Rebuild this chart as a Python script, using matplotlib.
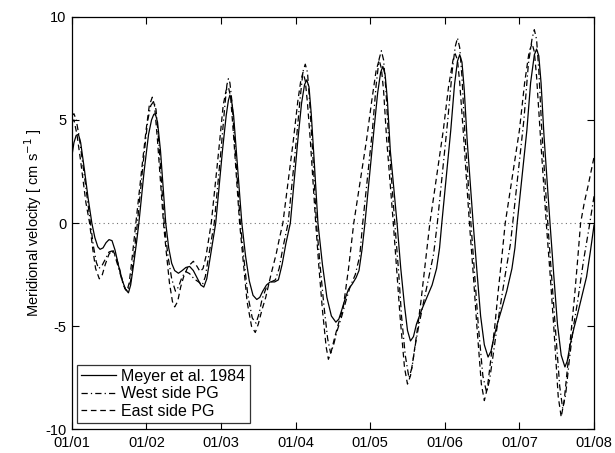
import matplotlib
matplotlib.use("Agg")
import matplotlib.pyplot as plt
from matplotlib.ticker import FuncFormatter

plt.rcParams['font.family'] = ['Liberation Sans', 'DejaVu Sans']

# ---- data: (time in days since 01/01, meridional velocity in cm/s) ----
meyer = [(0.00, 3.2), (0.03, 3.9), (0.06, 4.25), (0.09, 4.3), (0.12, 3.9), (0.17, 2.6), (0.22, 1.2),
         (0.27, 0.0), (0.31, -0.7), (0.35, -1.15), (0.38, -1.27), (0.42, -1.2), (0.46, -0.95),
         (0.50, -0.8), (0.54, -0.85), (0.58, -1.3), (0.63, -2.1), (0.68, -2.8), (0.72, -3.2),
         (0.76, -3.38), (0.79, -3.0), (0.83, -2.0), (0.87, -0.9), (0.90, 0.0), (0.97, 2.5),
         (1.03, 4.3), (1.07, 5.0), (1.10, 5.27), (1.12, 5.3), (1.15, 4.9), (1.19, 3.5), (1.26, 0.0),
         (1.30, -1.2), (1.34, -1.95), (1.38, -2.3), (1.43, -2.43), (1.48, -2.3), (1.53, -2.15),
         (1.58, -2.1), (1.63, -2.3), (1.68, -2.65), (1.73, -3.0), (1.77, -3.1), (1.81, -2.7),
         (1.85, -1.8), (1.93, 0.0), (2.02, 3.5), (2.07, 5.2), (2.10, 5.95), (2.12, 6.2), (2.14, 6.0),
         (2.17, 5.2), (2.20, 3.8), (2.28, 0.0), (2.33, -1.6), (2.38, -2.8), (2.43, -3.5), (2.48, -3.7),
         (2.52, -3.6), (2.56, -3.3), (2.61, -3.0), (2.66, -2.85), (2.72, -2.85), (2.77, -2.75),
         (2.82, -2.0), (2.87, -1.0), (2.93, 0.0), (3.03, 4.0), (3.08, 5.8), (3.12, 6.7), (3.15, 6.94),
         (3.18, 6.6), (3.21, 5.3), (3.25, 3.0), (3.30, 0.0), (3.36, -2.0), (3.42, -3.6), (3.48, -4.5),
         (3.54, -4.8), (3.58, -4.65), (3.62, -4.2), (3.67, -3.6), (3.71, -3.2), (3.76, -2.95),
         (3.81, -2.65), (3.85, -2.3), (3.89, -1.3), (3.93, 0.0), (4.05, 4.5), (4.10, 6.3), (4.14, 7.3),
         (4.17, 7.59), (4.20, 7.2), (4.23, 6.0), (4.27, 3.5), (4.36, 0.0), (4.41, -2.2), (4.46, -4.0),
         (4.50, -5.2), (4.54, -5.71), (4.58, -5.5), (4.62, -4.9), (4.69, -4.2), (4.76, -3.6),
         (4.83, -3.0), (4.89, -2.2), (4.93, -1.2), (4.96, 0.0), (5.08, 4.5), (5.13, 6.7), (5.17, 7.85),
         (5.20, 8.16), (5.23, 7.8), (5.26, 6.5), (5.30, 4.0), (5.38, 0.0), (5.43, -2.3), (5.48, -4.5),
         (5.53, -5.9), (5.58, -6.49), (5.62, -6.2), (5.66, -5.5), (5.71, -4.8), (5.76, -4.2),
         (5.83, -3.3), (5.90, -2.2), (5.94, -1.2), (5.97, 0.0), (6.10, 4.5), (6.15, 6.8), (6.20, 8.15),
         (6.23, 8.43), (6.26, 8.1), (6.29, 6.8), (6.33, 4.2), (6.41, 0.0), (6.46, -2.5), (6.51, -4.9),
         (6.56, -6.4), (6.61, -6.97), (6.64, -6.7), (6.68, -5.9), (6.73, -5.1), (6.77, -4.55),
         (6.84, -3.5), (6.90, -2.6), (6.95, -1.4), (7.00, -0.1)]

west = [(0.00, 5.2), (0.03, 5.3), (0.06, 5.0), (0.10, 4.2), (0.18, 2.0), (0.25, 0.0), (0.29, -1.1),
        (0.33, -1.9), (0.36, -2.2), (0.40, -2.1), (0.45, -1.75), (0.50, -1.4), (0.54, -1.35),
        (0.58, -1.6), (0.63, -2.2), (0.68, -2.85), (0.72, -3.2), (0.75, -3.3), (0.79, -2.8),
        (0.83, -1.7), (0.88, 0.0), (0.96, 3.0), (1.02, 5.0), (1.06, 5.7), (1.10, 5.9), (1.13, 5.5),
        (1.17, 3.8), (1.24, 0.0), (1.29, -1.6), (1.34, -2.7), (1.39, -3.3), (1.43, -3.1), (1.48, -2.6),
        (1.53, -2.35), (1.58, -2.45), (1.64, -2.7), (1.70, -2.85), (1.75, -3.0), (1.79, -2.6),
        (1.84, -1.5), (1.91, 0.0), (2.00, 3.5), (2.05, 5.6), (2.08, 6.7), (2.10, 7.0), (2.12, 6.8),
        (2.15, 5.8), (2.19, 3.6), (2.26, 0.0), (2.31, -1.8), (2.36, -3.5), (2.42, -4.6), (2.47, -4.85),
        (2.51, -4.4), (2.55, -3.7), (2.61, -3.1), (2.67, -2.85), (2.73, -2.75), (2.78, -2.2),
        (2.83, -1.2), (2.90, 0.0), (3.01, 4.0), (3.06, 6.0), (3.10, 7.35), (3.13, 7.7), (3.16, 7.3),
        (3.19, 5.8), (3.23, 3.4), (3.28, 0.0), (3.33, -2.1), (3.38, -4.0), (3.43, -5.6), (3.47, -6.3),
        (3.51, -5.9), (3.55, -5.3), (3.62, -4.5), (3.68, -3.7), (3.73, -3.1), (3.80, -2.5),
        (3.86, -1.6), (3.90, 0.0), (4.03, 4.5), (4.08, 6.7), (4.12, 7.95), (4.15, 8.35), (4.18, 7.9),
        (4.21, 6.5), (4.25, 3.9), (4.33, 0.0), (4.38, -2.3), (4.42, -4.5), (4.47, -6.4), (4.52, -7.5),
        (4.56, -7.0), (4.60, -6.0), (4.65, -5.0), (4.70, -4.1), (4.77, -2.9), (4.85, -1.5),
        (4.90, 0.0), (5.04, 5.0), (5.10, 7.4), (5.14, 8.55), (5.17, 8.97), (5.20, 8.5), (5.23, 7.1),
        (5.27, 4.3), (5.35, 0.0), (5.40, -2.5), (5.45, -5.0), (5.51, -7.4), (5.56, -8.2), (5.60, -7.6),
        (5.64, -6.6), (5.69, -5.3), (5.74, -4.1), (5.81, -2.5), (5.88, -1.0), (5.91, 0.0), (6.06, 5.0),
        (6.12, 7.7), (6.17, 8.95), (6.20, 9.37), (6.23, 8.9), (6.26, 7.4), (6.30, 4.5), (6.38, 0.0),
        (6.43, -2.5), (6.48, -5.0), (6.54, -7.9), (6.58, -9.0), (6.62, -8.3), (6.67, -6.6),
        (6.72, -5.1), (6.78, -3.8), (6.86, -1.8), (6.93, -0.3), (7.00, 1.3)]

east = [(0.00, 4.9), (0.03, 5.0), (0.07, 4.3), (0.12, 3.0), (0.19, 1.0), (0.24, 0.0), (0.28, -1.2),
        (0.32, -2.2), (0.37, -2.7), (0.41, -2.5), (0.45, -2.0), (0.50, -1.5), (0.55, -1.3),
        (0.60, -1.7), (0.64, -2.2), (0.68, -2.8), (0.71, -3.15), (0.74, -3.3), (0.77, -2.9),
        (0.80, -2.0), (0.86, 0.0), (0.95, 3.0), (1.00, 4.6), (1.04, 5.7), (1.08, 6.1), (1.11, 5.7),
        (1.15, 4.0), (1.23, 0.0), (1.27, -1.5), (1.31, -2.9), (1.35, -3.8), (1.38, -4.06),
        (1.42, -3.8), (1.46, -3.1), (1.50, -2.6), (1.56, -2.1), (1.63, -1.85), (1.68, -2.1),
        (1.72, -2.35), (1.76, -2.2), (1.80, -1.6), (1.87, 0.0), (1.97, 3.5), (2.03, 5.7), (2.07, 6.45),
        (2.10, 6.6), (2.13, 6.1), (2.17, 4.2), (2.25, 0.0), (2.30, -1.9), (2.35, -3.8), (2.41, -5.0),
        (2.46, -5.3), (2.50, -4.9), (2.55, -4.2), (2.60, -3.6), (2.67, -2.5), (2.74, -1.5),
        (2.78, -0.8), (2.83, 0.0), (2.97, 4.0), (3.03, 5.9), (3.07, 6.9), (3.10, 7.3), (3.13, 6.9),
        (3.16, 5.8), (3.20, 3.9), (3.27, 0.0), (3.31, -2.0), (3.36, -4.2), (3.41, -6.0), (3.44, -6.6),
        (3.48, -6.2), (3.52, -5.6), (3.58, -4.8), (3.64, -4.06), (3.71, -2.2), (3.78, 0.0),
        (3.95, 4.0), (4.02, 5.9), (4.08, 7.4), (4.12, 7.9), (4.15, 7.5), (4.18, 6.4), (4.22, 4.1),
        (4.31, 0.0), (4.35, -2.0), (4.40, -4.5), (4.46, -7.0), (4.50, -7.8), (4.54, -7.4),
        (4.58, -6.5), (4.63, -5.2), (4.68, -3.8), (4.74, -1.9), (4.80, 0.0), (4.98, 4.5), (5.05, 6.6),
        (5.11, 7.9), (5.14, 8.2), (5.17, 7.9), (5.20, 6.8), (5.25, 4.3), (5.33, 0.0), (5.38, -2.4),
        (5.43, -5.0), (5.49, -7.8), (5.53, -8.6), (5.57, -8.0), (5.62, -6.5), (5.67, -5.0),
        (5.71, -3.5), (5.76, -1.8), (5.81, 0.0), (6.00, 4.5), (6.07, 6.8), (6.13, 8.3), (6.17, 8.7),
        (6.20, 8.3), (6.23, 7.1), (6.28, 4.3), (6.36, 0.0), (6.41, -2.4), (6.46, -5.0), (6.52, -8.4),
        (6.56, -9.4), (6.60, -8.6), (6.65, -6.8), (6.70, -5.0), (6.74, -3.5), (6.78, -1.8),
        (6.82, 0.0), (6.87, 1.0), (6.92, 1.8), (7.00, 3.2)]

x_ticks = [0, 1, 2, 3, 4, 5, 6, 7]
x_labels = ["01/01", "01/02", "01/03", "01/04", "01/05", "01/06", "01/07", "01/08"]
y_ticks = [-10, -5, 0, 5, 10]
labels = ["Meyer et al. 1984", "West side PG", "East side PG"]

# ---- figure ----
fig = plt.figure(figsize=(6.15, 4.53), dpi=100)
ax = fig.add_axes([0.1166, 0.0519, 0.8493, 0.9112])

ax.axhline(0, color='0.45', linestyle=(0, (1, 3)), linewidth=0.8, zorder=1)

mt, mv = zip(*meyer)
wt, wv = zip(*west)
et, ev = zip(*east)
ax.plot(mt, mv, color='black', linewidth=0.9, linestyle='-', label=labels[0], zorder=3)
ax.plot(wt, wv, color='black', linewidth=0.9, linestyle=(0, (5, 2.5, 1, 2.5)),
        label=labels[1], zorder=2)
ax.plot(et, ev, color='black', linewidth=0.9, linestyle=(0, (4.5, 3)),
        label=labels[2], zorder=2)

ax.set_xlim(0, 7)
ax.set_ylim(-10, 10)
ax.set_xticks(x_ticks)
ax.set_xticklabels(x_labels)
ax.set_yticks(y_ticks)
ax.yaxis.set_major_formatter(FuncFormatter(lambda v, p: "%d" % v))

ax.tick_params(direction='in', top=True, right=True, length=5, width=0.8,
               labelsize=10.5, colors='black')
ax.tick_params(axis='x', pad=5)
ax.tick_params(axis='y', pad=4)
for s in ax.spines.values():
    s.set_linewidth(0.9)

ax.set_ylabel("Meridional velocity [ cm s$^{-1}$ ]", fontsize=10.5, labelpad=1)

leg = ax.legend(loc='lower left', bbox_to_anchor=(0.0096, 0.0165), borderaxespad=0,
                fontsize=11.5, frameon=True, fancybox=False, edgecolor='black',
                handlelength=2.2, handletextpad=0.35, labelspacing=0.15, borderpad=0.25)
leg.get_frame().set_linewidth(0.9)

fig.savefig("out.png", dpi=100)
